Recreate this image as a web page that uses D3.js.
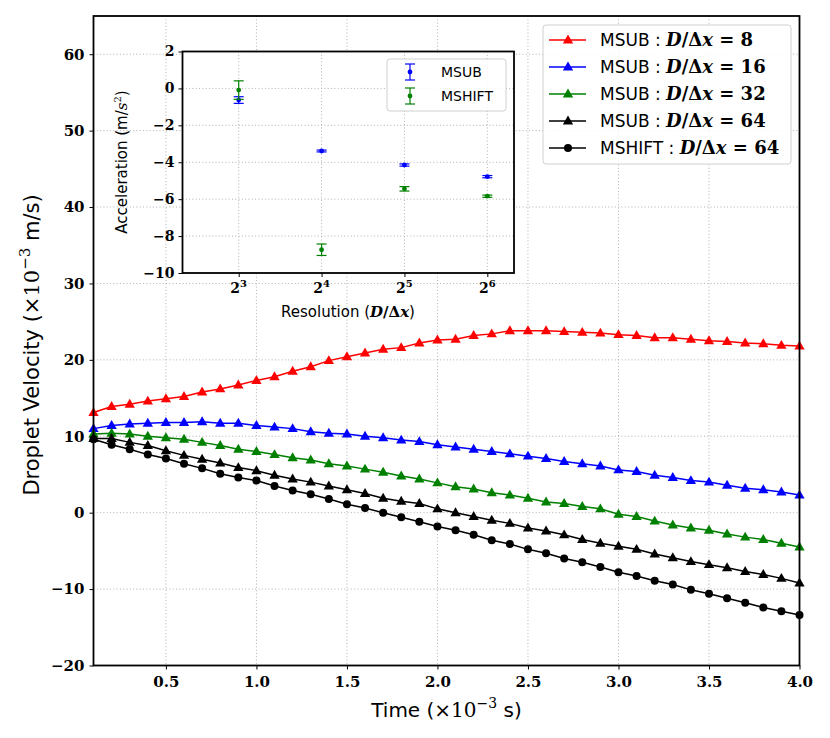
<!DOCTYPE html>
<html><head><meta charset="utf-8">
<script src="https://cdn.jsdelivr.net/npm/d3@7"></script>
<style>
body{margin:0;background:#fff;}
svg{display:block;}
</style></head><body>
<svg id="c" width="830" height="738"></svg>
<script>
// ---- data ----
const time = [0.1,0.2,0.3,0.4,0.5,0.6,0.7,0.8,0.9,1.0,1.1,1.2,1.3,1.4,1.5,1.6,1.7,1.8,1.9,2.0,
              2.1,2.2,2.3,2.4,2.5,2.6,2.7,2.8,2.9,3.0,3.1,3.2,3.3,3.4,3.5,3.6,3.7,3.8,3.9,4.0];
const msub8  = [13.1,13.9,14.2,14.6,14.9,15.2,15.8,16.2,16.7,17.3,17.8,18.5,19.1,19.9,20.4,20.9,21.4,21.6,22.2,22.6,
                22.7,23.2,23.4,23.8,23.8,23.8,23.7,23.6,23.5,23.3,23.2,22.9,22.9,22.7,22.5,22.4,22.2,22.1,21.9,21.8];
const msub16 = [11.0,11.4,11.6,11.7,11.8,11.8,11.9,11.7,11.7,11.4,11.2,11.0,10.6,10.4,10.3,10.0,9.8,9.5,9.3,8.9,
                8.6,8.3,8.0,7.7,7.4,7.1,6.7,6.4,6.1,5.6,5.4,4.9,4.6,4.2,4.0,3.6,3.2,3.0,2.7,2.3];
const msub32 = [10.3,10.4,10.3,10.0,9.8,9.6,9.2,8.8,8.3,8.0,7.6,7.2,6.9,6.4,6.1,5.7,5.3,4.8,4.4,3.9,
                3.4,3.1,2.6,2.3,1.9,1.4,1.2,0.8,0.5,-0.2,-0.5,-1.1,-1.6,-2.0,-2.3,-2.8,-3.2,-3.5,-4.0,-4.5];
const msub64 = [9.7,9.7,9.2,8.8,8.1,7.5,7.0,6.5,5.9,5.5,4.9,4.4,4.0,3.5,3.0,2.5,1.9,1.5,1.2,0.5,
                0.0,-0.5,-1.0,-1.4,-2.0,-2.4,-2.9,-3.5,-4.0,-4.4,-4.8,-5.4,-5.9,-6.4,-6.8,-7.2,-7.7,-8.1,-8.6,-9.2];
const mshift64 = [9.6,8.9,8.3,7.6,7.1,6.4,5.8,5.1,4.6,4.2,3.5,2.9,2.4,1.8,1.1,0.6,0.0,-0.6,-1.2,-1.8,
                  -2.3,-2.9,-3.6,-4.1,-4.8,-5.3,-6.0,-6.5,-7.1,-7.8,-8.3,-8.9,-9.4,-10.1,-10.6,-11.2,-11.8,-12.4,-12.9,-13.4];

const xTicks = [0.5,1.0,1.5,2.0,2.5,3.0,3.5,4.0];
const yTicks = [-20,-10,0,10,20,30,40,50,60];
const seriesNames = ["MSUB","MSUB","MSUB","MSUB","MSHIFT"];
const seriesRes = [8,16,32,64,64];
const seriesColors = ["#ff0000","#0000ff","#008000","#000000","#000000"];
const seriesMarkers = ["tri","tri","tri","tri","circ"];

// inset data
const resolution = [8,16,32,64];
const accMsub = [-0.63,-3.39,-4.15,-4.78];
const errMsub = [0.18,0.05,0.06,0.06];
const accMshift = [-0.09,-8.74,-5.44,-5.84];
const errMshift = [0.50,0.31,0.12,0.06];
const insetXTicks = [8,16,32,64];
const insetXExp = ["3","4","5","6"];
const insetYTicks = [-10,-8,-6,-4,-2,0,2];

// ---- drawing ----
const svg = d3.select("#c");
const SERIF = "'DejaVu Serif', serif";
const SANS = "'DejaVu Sans', sans-serif";
const L=93.5, R=799.5, T=16, B=665.5;
const x = d3.scaleLinear().domain([0.1,4.0]).range([L,R]);
const y = d3.scaleLinear().domain([-20,65]).range([B,T]);
const TRI = 46, CR = 4;

const grid = svg.append("g");
xTicks.forEach(t=>grid.append("line").attr("x1",x(t)).attr("x2",x(t)).attr("y1",T).attr("y2",B)
  .attr("stroke","#b0b0b0").attr("stroke-width",1).attr("stroke-dasharray","1,2.3"));
yTicks.forEach(t=>grid.append("line").attr("x1",L).attr("x2",R).attr("y1",y(t)).attr("y2",y(t))
  .attr("stroke","#b0b0b0").attr("stroke-width",1).attr("stroke-dasharray","1,2.3"));

const fmtTick = v => (v<0?"\u2212":"")+Math.abs(v);

const xAxis = svg.append("g").attr("transform",`translate(0,${B})`)
  .call(d3.axisBottom(x).tickValues(xTicks).tickFormat(d3.format(".1f")).tickSize(4).tickPadding(7));
const yAxis = svg.append("g").attr("transform",`translate(${L},0)`)
  .call(d3.axisLeft(y).tickValues(yTicks).tickFormat(fmtTick).tickSize(4).tickPadding(5));
[xAxis,yAxis].forEach(a=>{
  a.select(".domain").remove();
  a.selectAll(".tick line").attr("stroke","#000").attr("stroke-width",1);
  a.selectAll(".tick text").attr("font-family",SERIF).attr("font-weight","bold").attr("font-size",15).attr("fill","#000");
});

const seriesAll = [msub8,msub16,msub32,msub64,mshift64];
const line = d3.line().x((d,i)=>x(time[i])).y(d=>y(d));
const plot = svg.append("g");
seriesAll.forEach((s,k)=>{
  plot.append("path").datum(s).attr("d",line).attr("fill","none")
    .attr("stroke",seriesColors[k]).attr("stroke-width",1.5);
  const g = plot.append("g");
  if(seriesMarkers[k]==="tri"){
    g.selectAll("path").data(s).join("path")
      .attr("d",d3.symbol().type(d3.symbolTriangle).size(TRI))
      .attr("transform",(d,i)=>`translate(${x(time[i])},${y(d)+0.5})`)
      .attr("fill",seriesColors[k]);
  } else {
    g.selectAll("circle").data(s).join("circle")
      .attr("cx",(d,i)=>x(time[i])).attr("cy",d=>y(d)).attr("r",CR)
      .attr("fill",seriesColors[k]);
  }
});

// frame
svg.append("rect").attr("x",L).attr("y",T).attr("width",R-L).attr("height",B-T)
  .attr("fill","none").attr("stroke","#000").attr("stroke-width",1.8);

// axis labels
const xl = svg.append("text").attr("x",(L+R)/2).attr("y",717).attr("text-anchor","middle")
  .attr("font-family",SANS).attr("font-size",20).attr("fill","#000");
xl.append("tspan").text("Time (\u00d7");
xl.append("tspan").attr("font-family",SERIF).text("10");
xl.append("tspan").attr("font-family",SERIF).attr("font-size",14).attr("dy",-9).text("\u22123");
xl.append("tspan").attr("dy",9).text(" s)");

const yl = svg.append("text").attr("transform",`translate(39,345) rotate(-90)`).attr("text-anchor","middle")
  .attr("font-family",SANS).attr("font-size",21).attr("fill","#000");
yl.append("tspan").text("Droplet Velocity (\u00d7");
yl.append("tspan").attr("font-family",SERIF).text("10");
yl.append("tspan").attr("font-family",SERIF).attr("font-size",15).attr("dy",-9).text("\u22123");
yl.append("tspan").attr("dy",9).text(" m/s)");

// main legend
function mathLabel(sel, name, res){
  sel.append("tspan").attr("font-family",SANS).text(name+" : ");
  sel.append("tspan").attr("font-family",SERIF).attr("font-size",18).attr("font-weight","bold").attr("font-style","italic").text("D");
  sel.append("tspan").attr("font-family",SERIF).attr("font-size",18).attr("font-weight","bold").text("/\u0394");
  sel.append("tspan").attr("font-family",SERIF).attr("font-size",18).attr("font-weight","bold").attr("font-style","italic").text("x");
  sel.append("tspan").attr("font-family",SERIF).attr("font-size",18).attr("font-weight","bold").text(" = "+res);
}
const lg = svg.append("g");
lg.append("rect").attr("x",543).attr("y",25).attr("width",248).attr("height",139).attr("rx",3)
  .attr("fill","#fff").attr("fill-opacity",0.85).attr("stroke","#d0d0d0").attr("stroke-width",1);
seriesNames.forEach((n,k)=>{
  const yy = 40 + k*27;
  lg.append("line").attr("x1",549).attr("x2",586).attr("y1",yy).attr("y2",yy)
    .attr("stroke",seriesColors[k]).attr("stroke-width",1.5);
  if(seriesMarkers[k]==="tri"){
    lg.append("path").attr("d",d3.symbol().type(d3.symbolTriangle).size(TRI)())
      .attr("transform",`translate(568,${yy+0.5})`).attr("fill",seriesColors[k]);
  } else {
    lg.append("circle").attr("cx",568).attr("cy",yy).attr("r",CR).attr("fill",seriesColors[k]);
  }
  const t = lg.append("text").attr("x",600).attr("y",yy+6).attr("font-size",17).attr("fill","#000");
  mathLabel(t,n,seriesRes[k]);
});

// ---- inset ----
const iL=182.5, iR=514, iT=51.5, iB=273;
const ix = d3.scaleLog().base(2).domain([5,80]).range([iL,iR]);
const iy = d3.scaleLinear().domain([-10,2]).range([iB,iT]);
const ins = svg.append("g");
ins.append("rect").attr("x",iL).attr("y",iT).attr("width",iR-iL).attr("height",iB-iT).attr("fill","#fff");
insetXTicks.forEach(t=>ins.append("line").attr("x1",ix(t)).attr("x2",ix(t)).attr("y1",iT).attr("y2",iB)
  .attr("stroke","#b0b0b0").attr("stroke-width",1).attr("stroke-dasharray","1,2.3"));
insetYTicks.forEach(t=>ins.append("line").attr("x1",iL).attr("x2",iR).attr("y1",iy(t)).attr("y2",iy(t))
  .attr("stroke","#b0b0b0").attr("stroke-width",1).attr("stroke-dasharray","1,2.3"));

const ixa = ins.append("g").attr("transform",`translate(0,${iB})`)
  .call(d3.axisBottom(ix).tickValues(insetXTicks).tickFormat("").tickSize(4));
const iya = ins.append("g").attr("transform",`translate(${iL},0)`)
  .call(d3.axisLeft(iy).tickValues(insetYTicks).tickFormat(fmtTick).tickSize(4).tickPadding(4));
[ixa,iya].forEach(a=>{
  a.select(".domain").remove();
  a.selectAll(".tick line").attr("stroke","#000");
  a.selectAll(".tick text").attr("font-family",SERIF).attr("font-weight","bold").attr("font-size",14).attr("fill","#000");
});
insetXTicks.forEach((t,i)=>{
  const tx = ins.append("text").attr("x",ix(t)).attr("y",293).attr("text-anchor","middle")
    .attr("font-family",SERIF).attr("font-weight","bold").attr("font-size",14).attr("fill","#000");
  tx.append("tspan").text("2");
  tx.append("tspan").attr("font-size",10).attr("dy",-6).text(insetXExp[i]);
});

function errbars(vals, errs, color){
  const g = ins.append("g");
  vals.forEach((v,i)=>{
    const cx = ix(resolution[i]);
    g.append("line").attr("x1",cx).attr("x2",cx).attr("y1",iy(v+errs[i])).attr("y2",iy(v-errs[i]))
      .attr("stroke",color).attr("stroke-width",1.2);
    [v+errs[i], v-errs[i]].forEach(e=>g.append("line").attr("x1",cx-5).attr("x2",cx+5)
      .attr("y1",iy(e)).attr("y2",iy(e)).attr("stroke",color).attr("stroke-width",1.2));
    g.append("circle").attr("cx",cx).attr("cy",iy(v)).attr("r",2.4).attr("fill",color);
  });
}
errbars(accMsub, errMsub, "#0000ff");
errbars(accMshift, errMshift, "#008000");

ins.append("rect").attr("x",iL).attr("y",iT).attr("width",iR-iL).attr("height",iB-iT)
  .attr("fill","none").attr("stroke","#000").attr("stroke-width",1.8);

// inset legend
const ilg = ins.append("g");
ilg.append("rect").attr("x",387).attr("y",59).attr("width",119).attr("height",52).attr("rx",3)
  .attr("fill","#fff").attr("fill-opacity",0.85).attr("stroke","#d0d0d0");
[["MSUB","#0000ff",72],["MSHIFT","#008000",96]].forEach(([n,c,yy])=>{
  ilg.append("line").attr("x1",410).attr("x2",410).attr("y1",yy-8).attr("y2",yy+8).attr("stroke",c).attr("stroke-width",1.2);
  ilg.append("line").attr("x1",405).attr("x2",415).attr("y1",yy-8).attr("y2",yy-8).attr("stroke",c).attr("stroke-width",1.2);
  ilg.append("line").attr("x1",405).attr("x2",415).attr("y1",yy+8).attr("y2",yy+8).attr("stroke",c).attr("stroke-width",1.2);
  ilg.append("circle").attr("cx",410).attr("cy",yy).attr("r",2.4).attr("fill",c);
  ilg.append("text").attr("x",441).attr("y",yy+5).attr("font-family",SANS).attr("font-size",14).attr("fill","#000").text(n);
});

// inset axis labels
const iyl = ins.append("text").attr("transform",`translate(127,162) rotate(-90)`).attr("text-anchor","middle")
  .attr("font-family",SANS).attr("font-size",15).attr("fill","#000");
iyl.append("tspan").text("Acceleration (m/");
iyl.append("tspan").attr("font-family",SERIF).attr("font-style","italic").text("s");
iyl.append("tspan").attr("font-family",SERIF).attr("font-size",10).attr("dy",-6).text("2");
iyl.append("tspan").attr("dy",6).text(")");

const ixl = ins.append("text").attr("x",348).attr("y",317).attr("text-anchor","middle")
  .attr("font-family",SANS).attr("font-size",15).attr("fill","#000");
ixl.append("tspan").text("Resolution (");
ixl.append("tspan").attr("font-family",SERIF).attr("font-weight","bold").attr("font-style","italic").text("D");
ixl.append("tspan").attr("font-family",SERIF).attr("font-weight","bold").text("/\u0394");
ixl.append("tspan").attr("font-family",SERIF).attr("font-weight","bold").attr("font-style","italic").text("x");
ixl.append("tspan").text(")");
</script>
</body></html>
